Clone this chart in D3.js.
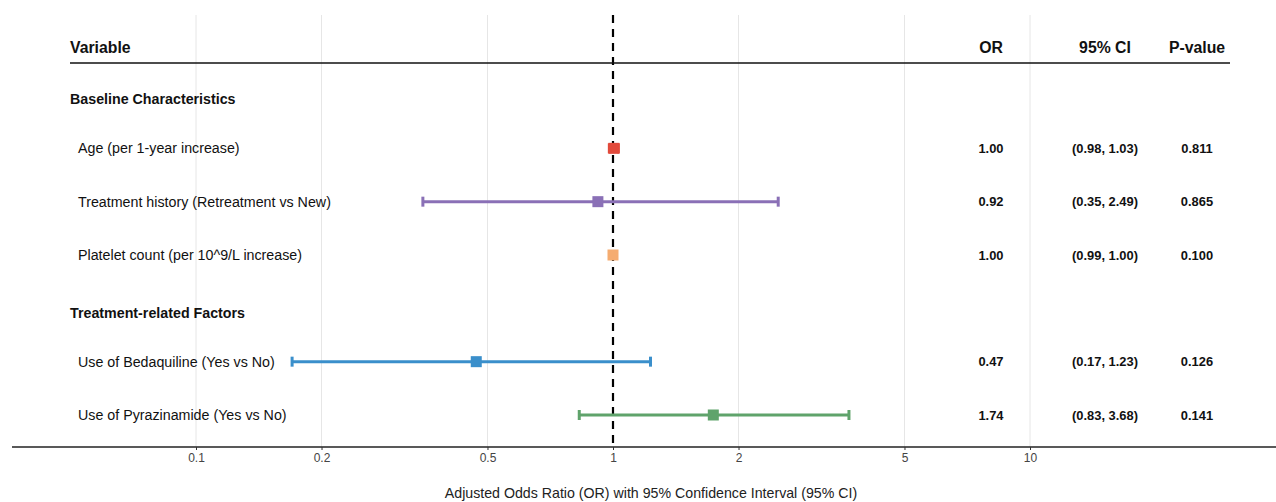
<!DOCTYPE html>
<html>
<head>
<meta charset="utf-8">
<script src="https://cdn.jsdelivr.net/npm/d3@7"></script>
<style>
  body { margin: 0; background: #fff; }
  svg { font-family: "Liberation Sans", Arial, sans-serif; display: block; }
</style>
</head>
<body>
<div id="chart"></div>
<script>
const groupHeaders = ["Baseline Characteristics", "Treatment-related Factors"];
const variables = [
    "Age (per 1-year increase)",
    "Treatment history (Retreatment vs New)",
    "Platelet count (per 10^9/L increase)",
    "Use of Bedaquiline (Yes vs No)",
    "Use of Pyrazinamide (Yes vs No)"
];
const variableGroup = [0, 0, 0, 1, 1];
const oddsRatio = [1.005, 0.92, 1.00, 0.47, 1.74];
const ciLower = [0.98, 0.35, 0.99, 0.17, 0.83];
const ciUpper = [1.03, 2.49, 1.00, 1.23, 3.68];
const pValues = ["0.811", "0.865", "0.100", "0.126", "0.141"];
const pointColors = ["#E24A3B", "#8A70B6", "#F5AC70", "#3A8FCB", "#5FA36B"];
const xTicks = [0.1, 0.2, 0.5, 1, 2, 5, 10];
const columnHeaders = ["Variable", "OR", "95% CI", "P-value"];
const xTitle = "Adjusted Odds Ratio (OR) with 95% Confidence Interval (95% CI)";

function buildRows() {
    const rows = [];
    groupHeaders.forEach((g, gi) => {
        rows.push({ key: g, label: g, header: true });
        variables.forEach((v, i) => {
            if (variableGroup[i] !== gi) return;
            rows.push({
                key: v, label: v, header: false,
                or: oddsRatio[i], lo: ciLower[i], hi: ciUpper[i],
                p: pValues[i], color: pointColors[i]
            });
        });
    });
    return rows;
}

function render() {
    const width = 1276, height = 502;
    const rows = buildRows();

    const svg = d3.select("#chart").append("svg")
        .attr("width", width)
        .attr("height", height);

    const x = d3.scaleLog().domain([0.1, 10]).range([196, 1030]);
    const y = d3.scalePoint().domain(rows.map(d => d.key)).range([96, 416]);

    const plotTop = 15, axisY = 447;
    const colOR = 991, colCI = 1105, colP = 1197;

    // grid
    svg.append("g").selectAll("line")
        .data(xTicks.filter(t => t !== 1))
        .enter().append("line")
        .attr("x1", d => x(d)).attr("x2", d => x(d))
        .attr("y1", plotTop).attr("y2", axisY)
        .attr("stroke", "#e6e6e6")
        .attr("stroke-width", 1);

    // reference line at OR = 1
    svg.append("line")
        .attr("x1", x(1)).attr("x2", x(1))
        .attr("y1", plotTop).attr("y2", axisY)
        .attr("stroke", "#000")
        .attr("stroke-width", 2.2)
        .attr("stroke-dasharray", "8,6");

    // column headers
    const head = svg.append("g")
        .attr("font-weight", "bold")
        .attr("font-size", 15.8)
        .attr("fill", "#111");
    head.append("text").attr("x", 70).attr("y", 47).attr("dy", "0.35em").text(columnHeaders[0]);
    [colOR, colCI, colP].forEach((cx, i) => {
        head.append("text").attr("x", cx).attr("y", 47).attr("dy", "0.35em")
            .attr("text-anchor", "middle").text(columnHeaders[i + 1]);
    });
    svg.append("line")
        .attr("x1", 70).attr("x2", 1230)
        .attr("y1", 63).attr("y2", 63)
        .attr("stroke", "#111")
        .attr("stroke-width", 1.5);

    // row labels
    svg.append("g").selectAll("text")
        .data(rows)
        .enter().append("text")
        .attr("x", d => d.header ? 70 : 78)
        .attr("y", d => y(d.key) + (d.header ? 3.5 : -1))
        .attr("dy", "0.35em")
        .attr("font-size", 14.25)
        .attr("font-weight", d => d.header ? "bold" : "normal")
        .attr("fill", "#111")
        .text(d => d.label);

    const data = rows.filter(d => !d.header);

    // confidence intervals
    const ci = svg.append("g").selectAll("g")
        .data(data)
        .enter().append("g")
        .attr("stroke", d => d.color)
        .attr("stroke-width", 3);
    ci.append("line")
        .attr("x1", d => x(d.lo)).attr("x2", d => x(d.hi))
        .attr("y1", d => y(d.key) - 1).attr("y2", d => y(d.key) - 1);
    ci.append("line")
        .attr("x1", d => x(d.lo)).attr("x2", d => x(d.lo))
        .attr("y1", d => y(d.key) - 6).attr("y2", d => y(d.key) + 4);
    ci.append("line")
        .attr("x1", d => x(d.hi)).attr("x2", d => x(d.hi))
        .attr("y1", d => y(d.key) - 6).attr("y2", d => y(d.key) + 4);

    // point estimates
    const s = 11;
    svg.append("g").selectAll("rect")
        .data(data)
        .enter().append("rect")
        .attr("x", d => x(d.or) - s / 2)
        .attr("y", d => y(d.key) - 1 - s / 2)
        .attr("width", s).attr("height", s)
        .attr("fill", d => d.color);

    // table values
    const tbl = svg.append("g")
        .attr("font-size", 12.9)
        .attr("font-weight", "bold")
        .attr("fill", "#111")
        .attr("text-anchor", "middle");
    tbl.selectAll(".or").data(data).enter().append("text")
        .attr("x", colOR).attr("y", d => y(d.key) - 1).attr("dy", "0.35em")
        .text(d => d.or.toFixed(2));
    tbl.selectAll(".ci").data(data).enter().append("text")
        .attr("x", colCI).attr("y", d => y(d.key) - 1).attr("dy", "0.35em")
        .text(d => `(${d.lo.toFixed(2)}, ${d.hi.toFixed(2)})`);
    tbl.selectAll(".p").data(data).enter().append("text")
        .attr("x", colP).attr("y", d => y(d.key) - 1).attr("dy", "0.35em")
        .text(d => d.p);

    // x axis
    svg.append("line")
        .attr("x1", 12).attr("x2", width)
        .attr("y1", axisY).attr("y2", axisY)
        .attr("stroke", "#222")
        .attr("stroke-width", 1.6);
    const axis = svg.append("g")
        .attr("transform", `translate(0,${axisY})`)
        .call(d3.axisBottom(x).tickValues(xTicks).tickFormat(d3.format("")).tickSize(3).tickPadding(3));
    axis.select(".domain").remove();
    axis.selectAll(".tick line").attr("stroke", "#333");
    axis.selectAll(".tick text")
        .attr("font-family", "Liberation Sans, Arial, sans-serif")
        .attr("font-size", 12)
        .attr("fill", "#444");

    svg.append("text")
        .attr("x", 651).attr("y", 493)
        .attr("dy", "0.35em")
        .attr("text-anchor", "middle")
        .attr("font-size", 14.2)
        .attr("fill", "#222")
        .text(xTitle);
}

window.addEventListener("load", render);
</script>
</body>
</html>
